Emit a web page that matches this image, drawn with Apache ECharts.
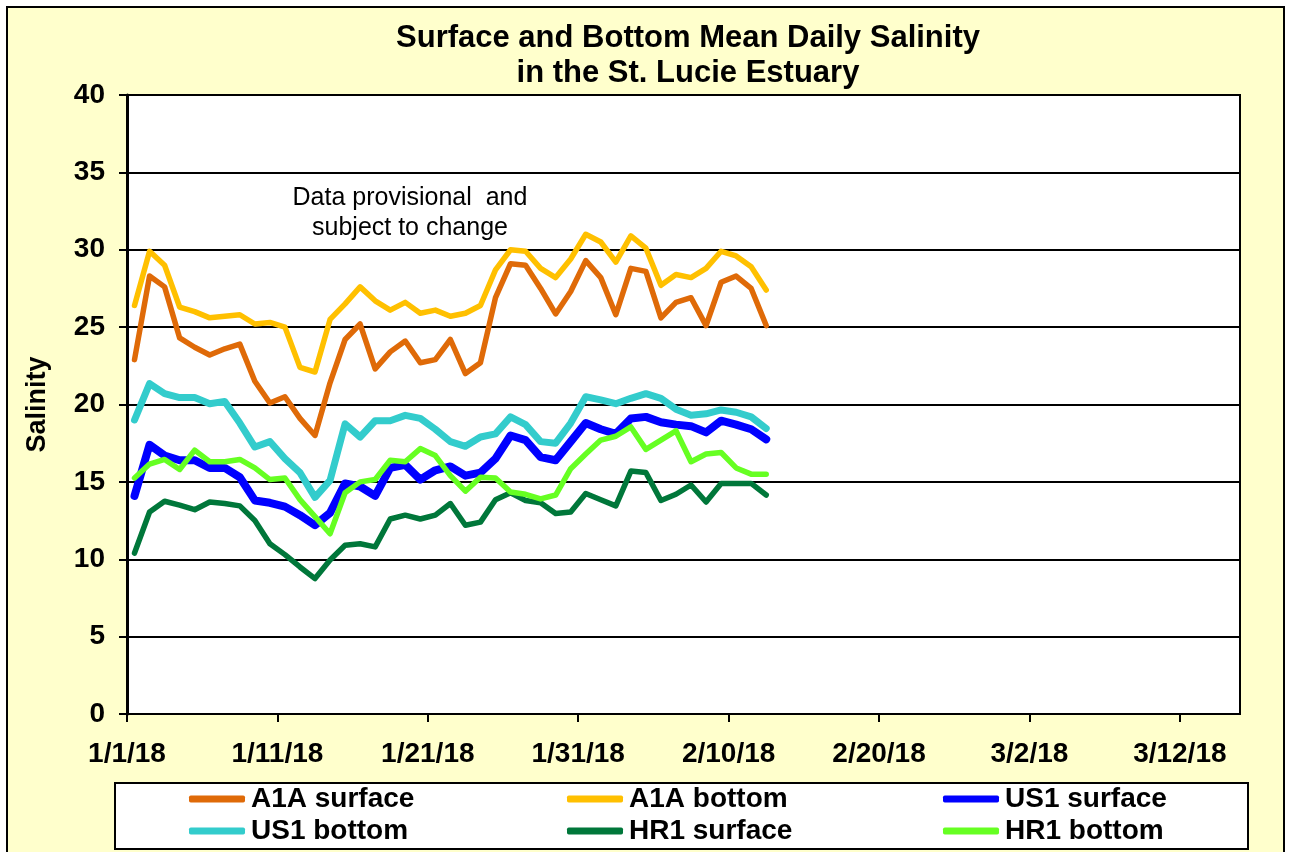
<!DOCTYPE html>
<html>
<head>
<meta charset="utf-8">
<script src="https://cdn.jsdelivr.net/npm/echarts@6/dist/echarts.min.js"></script>
<style>
html,body{margin:0;padding:0;background:#ffffff;}
#chart{width:1289px;height:852px;}
</style>
</head>
<body>
<div id="chart"></div>
<script>
// ---- data ----
const startDate = '2018-01-01';
const xTickLabels = ['1/1/18','1/11/18','1/21/18','1/31/18','2/10/18','2/20/18','3/2/18','3/12/18'];
const seriesNames = ['A1A surface','A1A bottom','US1 surface','US1 bottom','HR1 surface','HR1 bottom'];
const a1aSurface = [22.9,28.3,27.6,24.3,23.7,23.2,23.6,23.9,21.5,20.1,20.5,19.1,18.0,21.4,24.2,25.2,22.3,23.4,24.1,22.7,22.9,24.2,22.0,22.7,26.9,29.1,29.0,27.5,25.85,27.3,29.3,28.2,25.8,28.8,28.6,25.6,26.6,26.9,25.1,27.9,28.3,27.5,25.1];
const a1aBottom  = [26.4,29.9,29.0,26.3,26.0,25.6,25.7,25.8,25.2,25.3,25.0,22.4,22.1,25.5,26.5,27.6,26.7,26.1,26.6,25.9,26.1,25.7,25.9,26.4,28.7,30.0,29.9,28.8,28.2,29.4,31.0,30.5,29.2,30.9,30.1,27.7,28.4,28.2,28.8,29.9,29.6,28.9,27.4];
const us1Surface = [14.1,17.4,16.7,16.4,16.4,15.9,15.9,15.3,13.8,13.65,13.4,12.85,12.2,13.0,14.9,14.7,14.1,15.9,16.1,15.15,15.75,16.0,15.4,15.6,16.5,18.0,17.7,16.6,16.4,17.6,18.8,18.4,18.1,19.1,19.2,18.85,18.7,18.6,18.2,18.95,18.7,18.4,17.75];
const us1Bottom  = [19.0,21.35,20.7,20.45,20.45,20.05,20.2,18.8,17.25,17.6,16.5,15.6,14.0,15.1,18.75,17.9,18.95,18.95,19.3,19.1,18.4,17.6,17.3,17.9,18.1,19.2,18.7,17.6,17.5,18.8,20.5,20.3,20.05,20.4,20.7,20.4,19.7,19.3,19.4,19.65,19.5,19.2,18.45];
const hr1Surface = [10.4,13.05,13.75,13.5,13.2,13.7,13.6,13.45,12.5,11.0,10.3,9.5,8.75,9.95,10.9,11.0,10.8,12.6,12.85,12.6,12.85,13.6,12.2,12.4,13.85,14.3,13.8,13.65,12.95,13.05,14.25,13.85,13.45,15.7,15.6,13.8,14.2,14.8,13.7,14.9,14.9,14.9,14.15];
const hr1Bottom  = [15.25,16.15,16.45,15.8,17.05,16.3,16.3,16.45,15.9,15.15,15.25,13.85,12.75,11.65,14.3,15.0,15.15,16.4,16.3,17.15,16.7,15.4,14.4,15.3,15.25,14.35,14.2,13.9,14.15,15.85,16.8,17.7,17.95,18.55,17.1,17.7,18.3,16.3,16.8,16.9,15.9,15.5,15.5];
const yTicks = [0,5,10,15,20,25,30,35,40];

// ---- build ----
const DAY = 86400000;
const t0 = Date.parse(startDate + 'T00:00:00Z');
function toPairs(vals){ return vals.map((v,i)=>[i + 0.5, v]); } // daily means centred in each day
function dayLabel(d){
  const dt = new Date(t0 + d*DAY);
  return (dt.getUTCMonth()+1) + '/' + dt.getUTCDate() + '/' + String(dt.getUTCFullYear()).slice(2);
}
const allSeries = [a1aSurface,a1aBottom,us1Surface,us1Bottom,hr1Surface,hr1Bottom];
const colors = ['#DF6A08','#FFC000','#0000FF','#33CCCC','#00773A','#66FF22'];
const widths = [5.5,5.5,8,7,5.5,5.5];

const FONT = 'Arial, "Liberation Sans", sans-serif';
const chart = echarts.init(document.getElementById('chart'), null, {renderer:'canvas'});

const series = allSeries.map((vals,k)=>({
  name: seriesNames[k],
  type: 'line',
  data: toPairs(vals),
  symbol: 'none',
  smooth: false,
  z: 3,
  lineStyle: {color: colors[k], width: widths[k], join: 'round', cap: 'round'},
  itemStyle: {color: colors[k]},
  emphasis: {disabled: true}
}));

function legendCol(names, left){
  return {
    left: left, top: 785, orient: 'vertical', padding: 0, itemGap: 4,
    itemWidth: 56, itemHeight: 7, icon: 'roundRect', z: 6,
    data: names,
    selectedMode: false,
    textStyle: {fontFamily: FONT, fontWeight: 'bold', fontSize: 28, color: '#000', lineHeight: 28, padding: [0,0,0,1]}
  };
}

chart.setOption({
  animation: false,
  backgroundColor: '#ffffff',
  color: colors,
  grid: {left: 127, top: 95, right: 49, bottom: 138, show: true, backgroundColor: '#ffffff', borderColor: '#000', borderWidth: 2, containLabel: false},
  graphic: [
    {type:'rect', z:-10, shape:{x:7,y:7,width:1277,height:860}, style:{fill:'#FFFFCC', stroke:'#000', lineWidth:2}},
    {type:'rect', z:1, shape:{x:115,y:783,width:1133,height:66}, style:{fill:'#ffffff', stroke:'#000', lineWidth:2}},
    {type:'text', z:5, x:688, y:21, style:{text:'Surface and Bottom Mean Daily Salinity\nin the St. Lucie Estuary', textAlign:'center', textVerticalAlign:'top', font:'bold 31px ' + FONT, lineHeight:35, fill:'#000'}},
    {type:'text', z:5, x:410, y:183, style:{text:'Data provisional  and\nsubject to change', textAlign:'center', textVerticalAlign:'top', font:'25px ' + FONT, lineHeight:30, fill:'#000'}}
  ],
  legend: [
    legendCol(['A1A surface','US1 bottom'], 189),
    legendCol(['A1A bottom','HR1 surface'], 567),
    legendCol(['US1 surface','HR1 bottom'], 943)
  ],
  xAxis: {
    type: 'value', min: 0, max: 74, interval: 10,
    axisLine: {show: true, onZero: false, lineStyle: {color: '#000', width: 2}},
    axisTick: {show: true, length: 8, inside: false, lineStyle: {color: '#000', width: 2}},
    splitLine: {show: false},
    axisLabel: {margin: 26, fontFamily: FONT, fontWeight: 'bold', fontSize: 28, color: '#000',
      formatter: function(v){ const i = Math.round(v/10); return xTickLabels[i] !== undefined ? xTickLabels[i] : dayLabel(v); },
      showMaxLabel: false}
  },
  yAxis: {
    type: 'value', min: yTicks[0], max: yTicks[yTicks.length-1], interval: 5,
    name: 'Salinity', nameLocation: 'middle', nameRotate: 90, nameGap: 76,
    nameTextStyle: {fontFamily: FONT, fontWeight: 'bold', fontSize: 27, color: '#000'},
    axisLine: {show: true, lineStyle: {color: '#000', width: 3}},
    axisTick: {show: true, length: 8, lineStyle: {color: '#000', width: 2}},
    splitLine: {show: true, lineStyle: {color: '#000', width: 2}},
    axisLabel: {margin: 22, fontFamily: FONT, fontWeight: 'bold', fontSize: 28, color: '#000'}
  },
  series: series
});
</script>
</body>
</html>
